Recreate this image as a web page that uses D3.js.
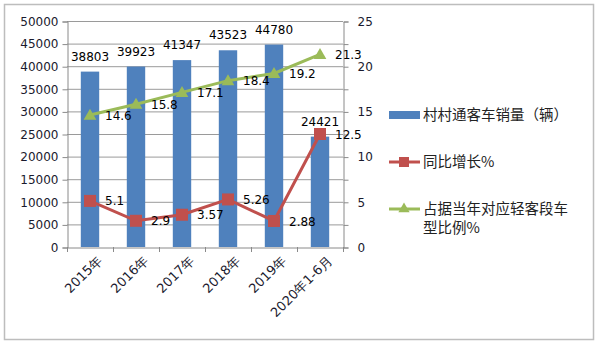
<!DOCTYPE html>
<html><head><meta charset="utf-8">
<script src="https://cdn.jsdelivr.net/npm/d3@7"></script>
<style>body{margin:0;background:#fff}svg{display:block}</style>
</head><body>
<svg id="c" width="600" height="345"></svg>
<script>
const categories = ["2015年","2016年","2017年","2018年","2019年","2020年1-6月"];
const sales = [38803, 39923, 41347, 43523, 44780, 24421];
const growth = [5.1, 2.9, 3.57, 5.26, 2.88, 12.5];
const share = [14.6, 15.8, 17.1, 18.4, 19.2, 21.3];
const growthLabels = ["5.1","2.9","3.57","5.26","2.88","12.5"];
const shareLabels = ["14.6","15.8","17.1","18.4","19.2","21.3"];
const leftTicks = [0,5000,10000,15000,20000,25000,30000,35000,40000,45000,50000];
const rightTicks = [0,5,10,15,20,25];
const rightMinorTicks = [0,2.5,5,7.5,10,12.5,15,17.5,20,22.5,25];
const legendLabels = ["村村通客车销量（辆）","同比增长%",["占据当年对应轻客段车","型比例%"]];

const C_BAR="#4F81BD", C_RED="#C0504D", C_GREEN="#9BBB59";
const FONT="DejaVu Sans, sans-serif";
const CJK="'Noto Sans CJK SC', sans-serif";
const svg=d3.select("#c");
const L=67,R=343,T=21,B=247;

svg.append("rect").attr("x",4.5).attr("y",4.5).attr("width",589).attr("height",335)
  .attr("fill","#fff").attr("stroke","#bdbdbd").attr("stroke-width",1.5);

const x=d3.scaleBand().domain(categories).range([L,R]).padding(0);
const yL=d3.scaleLinear().domain([0,50000]).range([B,T]);
const yR=d3.scaleLinear().domain([0,25]).range([B,T]);

// gridlines
svg.append("g").selectAll("line").data(leftTicks.filter(d=>d>0)).join("line")
  .attr("x1",L).attr("x2",R).attr("y1",d=>yL(d)+0.5).attr("y2",d=>yL(d)+0.5)
  .attr("stroke","#9a9a9a").attr("stroke-width",1);

// left axis
const ga=svg.append("g").attr("transform",`translate(${L+0.5},0.5)`)
  .call(d3.axisLeft(yL).tickValues(leftTicks).tickSize(5).tickPadding(4).tickFormat(d3.format("d")));
ga.select(".domain").attr("stroke","#8a8a8a");
ga.selectAll(".tick line").attr("stroke","#8a8a8a");
ga.selectAll("text").attr("font-family",FONT).attr("font-size",12).attr("fill","#1a1a2e");

// right axis
const gr=svg.append("g").attr("transform",`translate(${R+0.5},0.5)`)
  .call(d3.axisRight(yR).tickValues(rightMinorTicks).tickSize(5).tickPadding(9)
    .tickFormat(d=>rightTicks.includes(d)?d3.format("d")(d):""));
gr.select(".domain").attr("stroke","#8a8a8a");
gr.selectAll(".tick line").attr("stroke","#8a8a8a");
gr.selectAll("text").attr("font-family",FONT).attr("font-size",12).attr("fill","#1a1a2e");

// x axis
const gx=svg.append("g").attr("transform",`translate(0,${B+0.5})`)
  .call(d3.axisBottom(x).tickSize(0).tickPadding(15));
gx.select(".domain").attr("stroke","#8a8a8a");
gx.selectAll("text").attr("font-family",FONT).attr("font-size",13).attr("fill","#1a1a2e")
  .attr("text-anchor","end").attr("dy","0.35em")
  .attr("transform","translate(-1,0) rotate(-45)");
const bounds=categories.map(c=>x(c)).concat([x(categories[categories.length-1])+x.bandwidth()]);
svg.append("g").selectAll("line").data(bounds).join("line")
  .attr("x1",d=>Math.round(d)+0.5).attr("x2",d=>Math.round(d)+0.5).attr("y1",B).attr("y2",B+5)
  .attr("stroke","#8a8a8a");

// bars
const bw=x.bandwidth()*0.4;
svg.append("g").selectAll("rect").data(sales).join("rect")
  .attr("x",(d,i)=>x(categories[i])+x.bandwidth()/2-bw/2).attr("width",bw)
  .attr("y",d=>yL(d)).attr("height",d=>B-yL(d)).attr("fill",C_BAR);
svg.append("g").selectAll("text").data(sales).join("text")
  .attr("x",(d,i)=>x(categories[i])+x.bandwidth()/2).attr("y",d=>yL(d)-11)
  .attr("text-anchor","middle").attr("font-family",FONT).attr("font-size",12).attr("fill","#000")
  .text(d=>d);

const cx=i=>x(categories[i])+x.bandwidth()/2;
const line=s=>d3.line().x((d,i)=>cx(i)).y(d=>yR(d))(s);

// growth line
svg.append("path").attr("d",line(growth)).attr("fill","none").attr("stroke",C_RED).attr("stroke-width",3);
svg.append("g").selectAll("rect").data(growth).join("rect")
  .attr("x",(d,i)=>cx(i)-6).attr("y",d=>yR(d)-6).attr("width",12).attr("height",12).attr("fill",C_RED);
// share line
svg.append("path").attr("d",line(share)).attr("fill","none").attr("stroke",C_GREEN).attr("stroke-width",3);
const tri=d3.symbol().type(d3.symbolTriangle).size(70);
svg.append("g").selectAll("path").data(share).join("path")
  .attr("d",tri).attr("transform",(d,i)=>`translate(${cx(i)},${yR(d)+1})`).attr("fill",C_GREEN);

// line labels
function labels(vals,txt){
  svg.append("g").selectAll("text").data(vals).join("text")
    .attr("x",(d,i)=>cx(i)+15).attr("y",d=>yR(d)).attr("dy","0.38em")
    .attr("font-family",FONT).attr("font-size",12).attr("fill","#000").text((d,i)=>txt[i]);
}
labels(growth,growthLabels);
labels(share,shareLabels);

// legend
const lg=svg.append("g").attr("font-family",CJK).attr("font-size",14.5).attr("fill","#222");
const ly=[115,162,209];
lg.append("rect").attr("x",389).attr("y",ly[0]-4).attr("width",31).attr("height",8).attr("fill",C_BAR);
lg.append("line").attr("x1",389).attr("x2",420).attr("y1",ly[1]).attr("y2",ly[1]).attr("stroke",C_RED).attr("stroke-width",3);
lg.append("rect").attr("x",399).attr("y",ly[1]-5).attr("width",10).attr("height",10).attr("fill",C_RED);
lg.append("line").attr("x1",389).attr("x2",420).attr("y1",ly[2]).attr("y2",ly[2]).attr("stroke",C_GREEN).attr("stroke-width",3);
lg.append("path").attr("d",d3.symbol().type(d3.symbolTriangle).size(55)).attr("transform",`translate(404,${ly[2]})`).attr("fill",C_GREEN);
legendLabels.forEach((t,i)=>{
  const lines=Array.isArray(t)?t:[t];
  lines.forEach((s,j)=>{
    lg.append("text").attr("x",423).attr("y",ly[i]+j*19).attr("dy","0.36em").text(s);
  });
});
</script>
</body></html>
